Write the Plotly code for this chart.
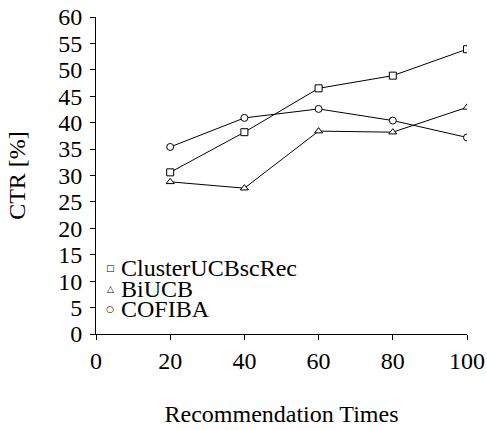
import plotly.graph_objects as go

x_vals = [20, 40, 60, 80, 100]
series_names = ["ClusterUCBscRec", "BiUCB", "COFIBA"]
cluster_vals = [30.6, 38.2, 46.5, 48.9, 53.9]
biucb_vals = [28.8, 27.6, 38.4, 38.2, 42.9]
cofiba_vals = [35.4, 40.9, 42.6, 40.4, 37.2]
x_ticks = [0, 20, 40, 60, 80, 100]
y_ticks = list(range(0, 61, 5))

symbols = ["square", "triangle-up", "circle"]
legend_glyphs = ["\u25a1", "\u25b3", "\u25cb"]
all_vals = [cluster_vals, biucb_vals, cofiba_vals]
sizes = [7, 7, 7]

FONT = "Liberation Serif"
FS = 24

fig = go.Figure()
for name, vals, sym, sz in zip(series_names, all_vals, symbols, sizes):
    fig.add_trace(go.Scatter(
        x=x_vals, y=vals, name=name, mode="lines+markers",
        line=dict(color="black", width=1),
        marker=dict(symbol=sym, size=sz, color="white",
                    line=dict(color="black", width=1)),
        showlegend=False,
    ))

# legend built from annotations (compact row spacing like the reference)
leg_y = [0.207, 0.142, 0.079]
for name, glyph, yy in zip(series_names, legend_glyphs, leg_y):
    fig.add_annotation(xref="paper", yref="paper", x=0.038, y=yy,
                       text=glyph, showarrow=False, xanchor="center", yanchor="middle",
                       font=dict(family="DejaVu Sans", size=9, color="black"))
    fig.add_annotation(xref="paper", yref="paper", x=0.062, y=yy,
                       text=name, showarrow=False, xanchor="left", yanchor="middle",
                       font=dict(family=FONT, size=FS, color="black"))

axis_common = dict(
    showline=True, linecolor="black", linewidth=1,
    ticks="outside", ticklen=5, tickcolor="black", tickwidth=1,
    showgrid=False, zeroline=False, automargin=False,
    ticklabeloverflow="allow",
    tickfont=dict(family=FONT, size=FS, color="black"),
)

fig.update_layout(
    width=487, height=430,
    margin=dict(l=96, r=20, t=17, b=96),
    paper_bgcolor="white", plot_bgcolor="white",
    font=dict(family=FONT, size=FS, color="black"),
    xaxis=dict(range=[0, 100], tickvals=x_ticks, **axis_common,
               title=dict(text="Recommendation Times", standoff=32,
                          font=dict(family=FONT, size=FS, color="black"))),
    yaxis=dict(range=[0, 60], tickvals=y_ticks, ticklabelstandoff=3, **axis_common,
               title=dict(text="CTR [%]", standoff=25,
                          font=dict(family=FONT, size=FS, color="black"))),
)

fig.write_html("out.html",
               config={"displayModeBar": False},
               post_script="document.body.style.margin='0';document.body.style.overflow='hidden';")
